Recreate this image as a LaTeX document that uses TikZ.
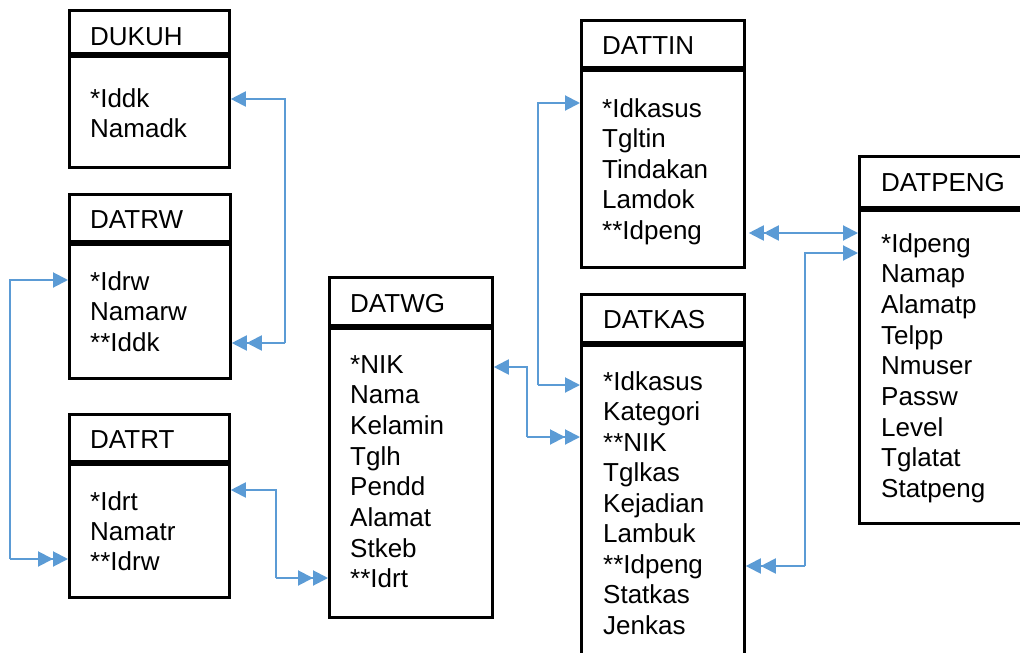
\documentclass[tikz,border=0pt]{standalone}
\usepackage{fontspec}
\setmainfont{Liberation Sans}
\usetikzlibrary{arrows.meta}
\definecolor{conblue}{HTML}{5B9BD5}
\newcommand\erfont{\fontsize{26}{30}\selectfont}
\tikzset{
  tablebox/.style={draw=black, line width=2.8pt, rectangle, inner sep=0pt, anchor=north west},
  headbar/.style={draw=black, line width=6.5pt},
  fieldtext/.style={anchor=base west, inner sep=0pt, font=\erfont, text=black},
  conn/.style={draw=conblue, line width=2pt},
  one/.style={-{Triangle[length=15pt,width=15pt]}},
  two/.style={-{Triangle[length=15pt,width=15pt]Triangle[length=15pt,width=15pt]}},
}
\begin{document}
\begin{tikzpicture}[x=1pt,y=-1pt]
\useasboundingbox (0,0) rectangle (1020,653);
\fill[white] (0,0) rectangle (1020,653);
\clip (0,0) rectangle (1020,653);

% ---------- boxes ----------
\node[tablebox, minimum width=160pt, minimum height=157pt] (dukuh) at (68,9) {};
\node[tablebox, minimum width=161pt, minimum height=184pt] (datrw) at (68,193) {};
\node[tablebox, minimum width=160pt, minimum height=183pt] (datrt) at (68,413) {};
\node[tablebox, minimum width=163pt, minimum height=340pt] (datwg) at (328,276) {};
\node[tablebox, minimum width=163pt, minimum height=247pt] (dattin) at (580,19) {};
\node[tablebox, minimum width=163pt, minimum height=400pt] (datkas) at (580,293) {};
\node[tablebox, minimum width=200pt, minimum height=367pt] (datpeng) at (858,155) {};

% ---------- header bars ----------
\draw[headbar] (68,55) -- (228,55);
\draw[headbar] (71,243) -- (230,243);
\draw[headbar] (71,463) -- (230,463);
\draw[headbar] (330,327) -- (491,327);
\draw[headbar] (583,69) -- (743,69);
\draw[headbar] (583,344) -- (743,344);
\draw[headbar] (860,209) -- (1030,209);

% ---------- titles ----------
\node[fieldtext] (t-dukuh) at (90,45) {DUKUH};
\node[fieldtext] (t-datrw) at (90,228) {DATRW};
\node[fieldtext] (t-datrt) at (90,448) {DATRT};
\node[fieldtext] (t-datwg) at (350,312) {DATWG};
\node[fieldtext] (t-dattin) at (602,54) {DATTIN};
\node[fieldtext] (t-datkas) at (603,328) {DATKAS};
\node[fieldtext] (t-datpeng) at (881,191) {DATPENG};

% ---------- fields ----------
\foreach \f [count=\i] in {*Iddk,Namadk}
  \node[fieldtext] (dukuh-\i) at (90,{107+(\i-1)*30.6}) {\f};
\foreach \f [count=\i] in {*Idrw,Namarw,**Iddk}
  \node[fieldtext] (datrw-\i) at (90,{290+(\i-1)*30.6}) {\f};
\foreach \f [count=\i] in {*Idrt,Namatr,**Idrw}
  \node[fieldtext] (datrt-\i) at (90,{510+(\i-1)*30.4}) {\f};
\foreach \f [count=\i] in {*NIK,Nama,Kelamin,Tglh,Pendd,Alamat,Stkeb,**Idrt}
  \node[fieldtext] (datwg-\i) at (350,{373+(\i-1)*30.7}) {\f};
\foreach \f [count=\i] in {*Idkasus,Tgltin,Tindakan,Lamdok,**Idpeng}
  \node[fieldtext] (dattin-\i) at (602,{117+(\i-1)*30.5}) {\f};
\foreach \f [count=\i] in {*Idkasus,Kategori,**NIK,Tglkas,Kejadian,Lambuk,**Idpeng,Statkas,Jenkas}
  \node[fieldtext] (datkas-\i) at (603,{390+(\i-1)*30.5}) {\f};
\foreach \f [count=\i] in {*Idpeng,Namap,Alamatp,Telpp,Nmuser,Passw,Level,Tglatat,Statpeng}
  \node[fieldtext] (datpeng-\i) at (881,{252+(\i-1)*30.7}) {\f};

% ---------- connectors ----------
% DUKUH - DATRW
\draw[conn, one] (285,343) coordinate (c1) |- (dukuh.east |- 0,99);
\draw[conn, two] (c1) -- (datrw.east |- 0,343);
% DATRW - DATRT
\draw[conn, one] (10,559) coordinate (c2) |- (datrw.west |- 0,280);
\draw[conn, two] (c2) -- (datrt.west |- 0,559);
% DATRT - DATWG
\draw[conn, one] (276,578) coordinate (c3) |- (datrt.east |- 0,490);
\draw[conn, two] (c3) -- (datwg.west |- 0,578);
% DATWG - DATKAS
\draw[conn, one] (527,437) coordinate (c4) |- (datwg.east |- 0,367);
\draw[conn, two] (c4) -- (datkas.west |- 0,437);
% DATTIN - DATKAS
\draw[conn, one] (538,385) coordinate (c5) |- (dattin.west |- 0,103);
\draw[conn, one] (c5) -- (datkas.west |- 0,385);
% DATTIN - DATPENG
\coordinate (c6) at (800,233);
\draw[conn, two] (c6) -- ([xshift=3pt]dattin.east |- 0,233);
\draw[conn, one] (c6) -- (datpeng.west |- 0,233);
% DATKAS - DATPENG
\draw[conn, one] (805,566) coordinate (c7) |- (datpeng.west |- 0,253);
\draw[conn, two] (c7) -- (datkas.east |- 0,566);
\end{tikzpicture}
\end{document}
